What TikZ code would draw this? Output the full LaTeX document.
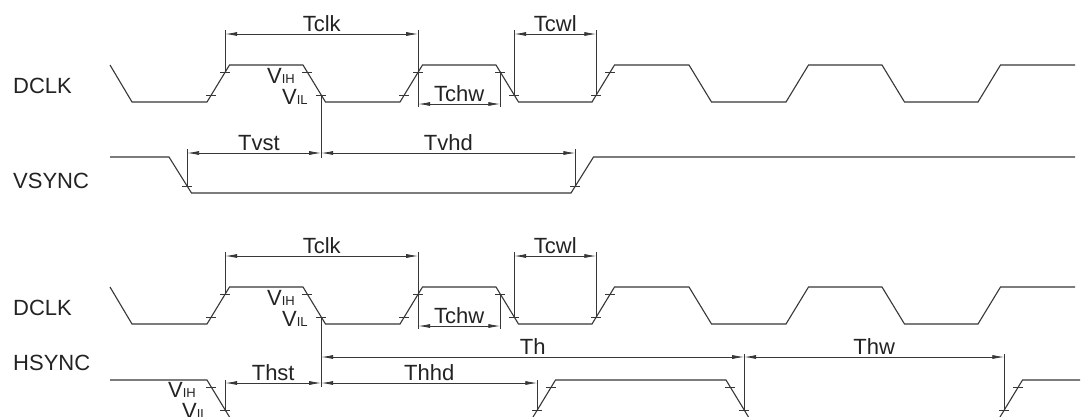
\documentclass[tikz,border=0pt]{standalone}
\usepackage{fontspec}
\setmainfont{Liberation Sans}
\usetikzlibrary{arrows.meta}
\definecolor{wcol}{RGB}{55,55,55}
\definecolor{tcol}{RGB}{35,35,35}
\newcommand\vsub[1]{{\fontsize{13}{13}\selectfont #1}}
\begin{document}
\begin{tikzpicture}[x=1pt,y=-1pt,
  wave/.style={draw=wcol,line width=1.1pt},
  extl/.style={draw=wcol,line width=0.8pt},
  tk/.style={draw=wcol,line width=0.8pt},
  dimline/.style={draw=wcol,line width=0.8pt,{Latex[length=12pt,width=4pt]}-{Latex[length=12pt,width=4pt]}},
  lbl/.style={font=\fontsize{22}{24}\selectfont,text=tcol,inner sep=0pt,anchor=base,yshift=3pt},
  sig/.style={font=\fontsize{22}{24}\selectfont,text=tcol,inner sep=0pt,anchor=base west},
  vlab/.style={font=\fontsize{22}{24}\selectfont,text=tcol,inner sep=0pt,anchor=base west}]
\clip (0,0) rectangle (1082,416);
\fill[white] (0,0) rectangle (1082,416);

% signal names
\node[sig] (nD1) at (13,93) {DCLK};
\node[sig] (nVS) at (13,188) {VSYNC};
\node[sig] (nD2) at (13,315) {DCLK};
\node[sig] (nHS) at (13,370) {HSYNC};

% two DCLK rows
\foreach \o/\p in {0/a,222/b}{
  \draw[wave] (110,65+\o) -- (132,102+\o) -- (207,102+\o) -- (229.5,65+\o) -- (303,65+\o) -- (325.5,102+\o)
    -- (400,102+\o) -- (422.5,65+\o) -- (496,65+\o) -- (518.5,102+\o) -- (592,102+\o) -- (614.5,65+\o)
    -- (689,65+\o) -- (711.5,102+\o) -- (786,102+\o) -- (808.5,65+\o) -- (882,65+\o) -- (904.5,102+\o)
    -- (978,102+\o) -- (1000.5,65+\o) -- (1075,65+\o);
  \coordinate (\p1L) at (211.3,95+\o);
  \coordinate (\p1H) at (225.2,72+\o);
  \coordinate (\p2H) at (307.3,72+\o);
  \coordinate (\p2L) at (321.2,95+\o);
  \coordinate (\p3L) at (404.3,95+\o);
  \coordinate (\p3H) at (418.2,72+\o);
  \coordinate (\p4H) at (500.3,72+\o);
  \coordinate (\p4L) at (514.2,95+\o);
  \coordinate (\p5L) at (596.3,95+\o);
  \coordinate (\p5H) at (610.2,72+\o);
  \foreach \c in {1L,1H,2H,2L,3L,3H,4H,4L,5L,5H}
    \draw[tk] ([xshift=-5pt]\p\c) -- ([xshift=5pt]\p\c);
  % extension lines
  \draw[extl] (\p1H) -- ++(0,-42);
  \draw[extl] (\p3H) ++(0,-42) -- ++(0,77);
  \draw[extl] (\p4H) -- ++(0,35);
  \draw[extl] (\p4L) -- ++(0,-65);
  \draw[extl] (\p5L) -- ++(0,-65);
  % dimension coordinates
  \path (\p1H) ++(0,-38) coordinate (\p Ca);
  \path (\p3H) ++(0,-38) coordinate (\p Cb);
  \path (\p3H) ++(0,32) coordinate (\p Ha);
  \path (\p4H) ++(0,32) coordinate (\p Hb);
  \path (\p4L) ++(0,-61) coordinate (\p Wa);
  \path (\p5L) ++(0,-61) coordinate (\p Wb);
  \draw[dimline] (\p Ca) -- node[lbl] (\p Tclk) {Tclk} (\p Cb);
  \draw[dimline] (\p Ha) -- node[lbl] (\p Tchw) {Tchw} (\p Hb);
  \draw[dimline] (\p Wa) -- node[lbl] (\p Tcwl) {Tcwl} (\p Wb);
  % VIH / VIL
  \node[vlab] (\p VIH) at (267,83+\o) {V\vsub{IH}};
  \node[vlab] (\p VIL) at (282,104+\o) {V\vsub{IL}};
}

% VSYNC
\draw[wave] (110,157) -- (169,157) -- (191.5,193) -- (571,193) -- (593.5,157) -- (1075,157);
\coordinate (vL1) at (187.1,186);
\coordinate (vL2) at (575.4,186);
\foreach \c in {vL1,vL2} \draw[tk] ([xshift=-5pt]\c) -- ([xshift=5pt]\c);
\draw[extl] (vL1) -- ++(0,-37);
\draw[extl] (vL2) -- ++(0,-37);
\draw[extl] (a2L) -- ++(0,63);
\path (vL1) ++(0,-33) coordinate (vA);
\path (a2L) ++(0,58) coordinate (vB);
\path (vL2) ++(0,-33) coordinate (vC);
\draw[dimline] (vA) -- (vB);
\draw[dimline] (vB) -- node[lbl] (Tvhd) {Tvhd} (vC);
\node[lbl] (Tvst) at (259,153) {Tvst};

% HSYNC (low level lies just below the cropped edge)
\draw[wave] (110,380) -- (207,380) -- (230.4,418.5) -- (532.1,418.5) -- (555.5,380) -- (726,380) -- (749.4,418.5)
  -- (999.1,418.5) -- (1022.5,380) -- (1080,380);
\coordinate (h1H) at (211.3,387);
\coordinate (h1L) at (225.2,410);
\coordinate (h2L) at (537.3,410);
\coordinate (h2H) at (551.2,387);
\coordinate (h3H) at (730.3,387);
\coordinate (h3L) at (744.2,410);
\coordinate (h4L) at (1004.3,410);
\coordinate (h4H) at (1018.2,387);
\foreach \c in {h1H,h1L,h2L,h2H,h3H,h3L,h4L,h4H} \draw[tk] ([xshift=-5pt]\c) -- ([xshift=5pt]\c);
\draw[extl] (b2L) -- ++(0,70);
\draw[extl] (h1L) -- ++(0,-30);
\draw[extl] (h2L) -- ++(0,-30);
\draw[extl] (h3L) -- ++(0,-56);
\draw[extl] (h4L) -- ++(0,-56);
\path (h1L) ++(0,-27) coordinate (hA);
\path (b2L) ++(0,66) coordinate (hB);
\path (h2L) ++(0,-27) coordinate (hC);
\path (b2L) ++(0,40) coordinate (hD);
\path (h3L) ++(0,-53) coordinate (hE);
\path (h4L) ++(0,-53) coordinate (hF);
\draw[dimline] (hA) -- node[lbl] (Thst) {Thst} (hB);
\draw[dimline] (hB) -- node[lbl] (Thhd) {Thhd} (hC);
\draw[dimline] (hD) -- node[lbl] (Th) {Th} (hE);
\draw[dimline] (hE) -- node[lbl] (Thw) {Thw} (hF);
\node[vlab] (hVIH) at (168,397) {V\vsub{IH}};
\node[vlab] (hVIL) at (182,418) {V\vsub{IL}};
\end{tikzpicture}
\end{document}
